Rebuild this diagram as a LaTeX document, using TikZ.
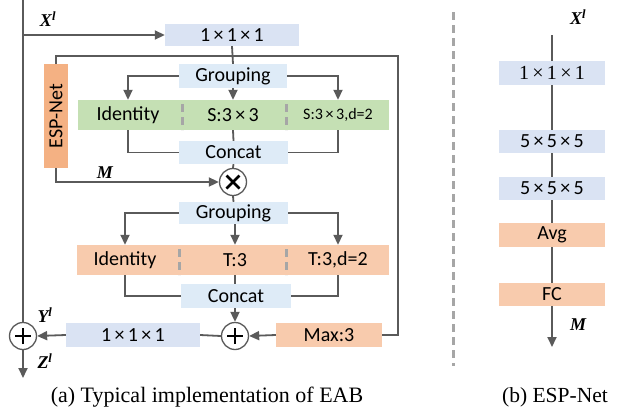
\documentclass[tikz,border=0pt]{standalone}
\usepackage{fontspec}
\setmainfont{Liberation Serif}
\newfontfamily\boxfont{Carlito}
\usetikzlibrary{arrows.meta}

\definecolor{linegray}{HTML}{5A5A5A}
\definecolor{convblue}{HTML}{DAE3F3}
\definecolor{opblue}{HTML}{DEEBF7}
\definecolor{opgreen}{HTML}{C5E0B4}
\definecolor{oppeach}{HTML}{F8CBAD}
\definecolor{esporange}{HTML}{F4B183}
\definecolor{sepgray}{HTML}{A6A6A6}

\tikzset{
  blk/.style={inner sep=0pt, font=\boxfont\fontsize{20}{24}\selectfont, text=black},
  conv/.style={blk, fill=convblue},
  oper/.style={blk, fill=opblue},
  spat/.style={blk, fill=opgreen},
  temp/.style={blk, fill=oppeach},
  espbox/.style={blk, fill=esporange},
  flow/.style={draw=linegray, line width=1.8pt},
  arr/.style={flow, -{Triangle[length=10pt,width=9pt]}},
  opcirc/.style={circle, draw=linegray, fill=white, line width=1.3pt, minimum size=27pt, inner sep=0pt},
  sym/.style={draw=black, line width=2.6pt},
  sepline/.style={draw=sepgray, line width=3pt, dash pattern=on 8pt off 5pt},
  lbl/.style={inner sep=0pt, font=\fontsize{18}{20}\selectfont\bfseries\itshape},
  caption/.style={inner sep=0pt, font=\fontsize{22}{26}\selectfont},
}

\begin{document}
\begin{tikzpicture}[x=1pt, y=-1pt]
\useasboundingbox (0,0) rectangle (624,416);

% ---------------- (a) EAB ----------------
\coordinate (in) at (23,0);
\coordinate (out) at (23,378);
\coordinate (tap) at (23,35);
\coordinate (loopL) at (56,56);
\coordinate (loopR) at (398,56);

\node[conv, minimum width=134pt, minimum height=22pt] (c1) at (232,35) {1\,×\,1\,×\,1};
\node[espbox, minimum width=24pt, minimum height=104pt] (esp) at (56,116) {};
\node[blk, rotate=90] at (esp.center) {ESP-Net};

% spatial branch
\node[oper, minimum width=108pt, minimum height=24pt] (g1) at (233,76) {Grouping};
\node[spat, minimum width=311pt, minimum height=30pt] (sbar) at (233.5,115) {};
\node[blk] (s1) at (128,115) {Identity};
\node[blk] (s2) at (233,115) {S:3\,×\,3};
\node[blk, font=\boxfont\fontsize{16}{20}\selectfont] (s3) at (338,115) {S:3\,×\,3,d=2};
\node[oper, minimum width=109pt, minimum height=23pt] (cc1) at (233.5,152.5) {Concat};
\node[opcirc] (mul) at (233,182) {};

% temporal branch
\node[oper, minimum width=109pt, minimum height=22pt] (g2) at (233.5,213) {Grouping};
\node[temp, minimum width=312pt, minimum height=30pt] (tbar) at (233,260) {};
\node[blk] (t1) at (125,260) {Identity};
\node[blk] (t2) at (235,260) {T:3};
\node[blk] (t3) at (338,260) {T:3,d=2};
\node[oper, minimum width=110pt, minimum height=24pt] (cc2) at (236,296) {Concat};
\node[opcirc] (add) at (235,336) {};
\node[temp, minimum width=106pt, minimum height=24pt] (mx) at (329,335) {Max:3};
\node[conv, minimum width=134pt, minimum height=24pt] (c2) at (133,335) {1\,×\,1\,×\,1};
\node[opcirc] (addL) at (23,336) {};

% separators inside the bars
\draw[sepline] (182,104) -- (182,130);
\draw[sepline] (286,104) -- (286,130);
\draw[sepline] (179,249) -- (179,275);
\draw[sepline] (286,249) -- (286,275);

% main path and input tap
\draw[flow] (in) -- (addL.north);
\draw[arr] (tap) -- (c1.west);
\draw[arr] (addL.south) -- (out);

% shared loop from the 1x1x1 output
\draw[flow] (c1.south) -- (g1.north);
\draw[flow] (esp.north) |- (loopR) |- (mx.east);

% ESP-Net mask into the multiplier
\draw[arr] (esp.south) |- (mul.west);

% spatial grouping and concat
\draw[arr] (g1.west) -| (s1.north |- sbar.north);
\draw[arr] (g1.south) -- (s2.north |- sbar.north);
\draw[arr] (g1.east) -| (s3.north |- sbar.north);
\draw[flow] (s1.south |- sbar.south) |- (cc1.west);
\draw[flow] (s2.south |- sbar.south) -- (cc1.north);
\draw[flow] (s3.south |- sbar.south) |- (cc1.east);
\draw[flow] (cc1.south) -- (mul.north);
\draw[flow] (mul.south) -- (g2.north);

% temporal grouping and concat
\draw[arr] (g2.west) -| (t1.north |- tbar.north);
\draw[arr] (g2.south -| t2.north) -- (t2.north |- tbar.north);
\draw[arr] (g2.east) -| (t3.north |- tbar.north);
\draw[flow] (t1.south |- tbar.south) |- (cc2.west);
\draw[flow] (t2.south |- tbar.south) -- (t2.south |- cc2.north);
\draw[flow] (t3.south |- tbar.south) |- (cc2.east);
\draw[arr] (cc2.south -| add.north) -- (add.north);

% fusion and output
\draw[arr] (mx.west) -- (add.east);
\draw[flow] (add.west) -- (c2.east);
\draw[arr] (c2.west) -- (addL.east);

% operator symbols
\draw[sym] ([xshift=-6.5pt,yshift=-6.5pt]mul.center) -- ([xshift=6.5pt,yshift=6.5pt]mul.center);
\draw[sym] ([xshift=-6.5pt,yshift=6.5pt]mul.center) -- ([xshift=6.5pt,yshift=-6.5pt]mul.center);
\draw[sym] ([xshift=-8pt]add.center) -- ([xshift=8pt]add.center);
\draw[sym] ([yshift=-8pt]add.center) -- ([yshift=8pt]add.center);
\draw[sym] ([xshift=-8pt]addL.center) -- ([xshift=8pt]addL.center);
\draw[sym] ([yshift=-8pt]addL.center) -- ([yshift=8pt]addL.center);

% signal labels
\node[lbl] (xl) at (48,19) {X\textsuperscript{l}};
\node[lbl] (ml) at (105,173) {M};
\node[lbl] (yl) at (45,315) {Y\textsuperscript{l}};
\node[lbl] (zl) at (45,361) {Z\textsuperscript{l}};

\node[caption] (capa) at (207,397) {(a) Typical implementation of EAB};

% ---------------- (b) ESP-Net ----------------
\draw[sepline] (453,12) -- (453,366);

\coordinate (bin) at (552,35);
\coordinate (bout) at (552,347);
\node[conv, minimum width=106pt, minimum height=24pt, font=\fontsize{20}{24}\selectfont] (b1) at (552,73) {1\,×\,1\,×\,1};
\node[conv, minimum width=106pt, minimum height=23pt] (b2) at (552,141.5) {5\,×\,5\,×\,5};
\node[conv, minimum width=106pt, minimum height=23pt] (b3) at (552,188.5) {5\,×\,5\,×\,5};
\node[temp, minimum width=106pt, minimum height=24pt] (b4) at (552,235) {Avg};
\node[temp, minimum width=106pt, minimum height=23pt] (b5) at (552,294.5) {FC};

\draw[flow] (bin) -- (b1.north);
\draw[flow] (b1.south) -- (b2.north);
\draw[flow] (b2.south) -- (b3.north);
\draw[flow] (b3.south) -- (b4.north);
\draw[flow] (b4.south) -- (b5.north);
\draw[arr] (b5.south) -- (bout);

\node[lbl] (xr) at (578,17) {X\textsuperscript{l}};
\node[lbl] (mr) at (578,325) {M};

\node[caption, font=\fontsize{21.5}{26}\selectfont] (capb) at (555,397) {(b) ESP-Net};
\end{tikzpicture}
\end{document}
